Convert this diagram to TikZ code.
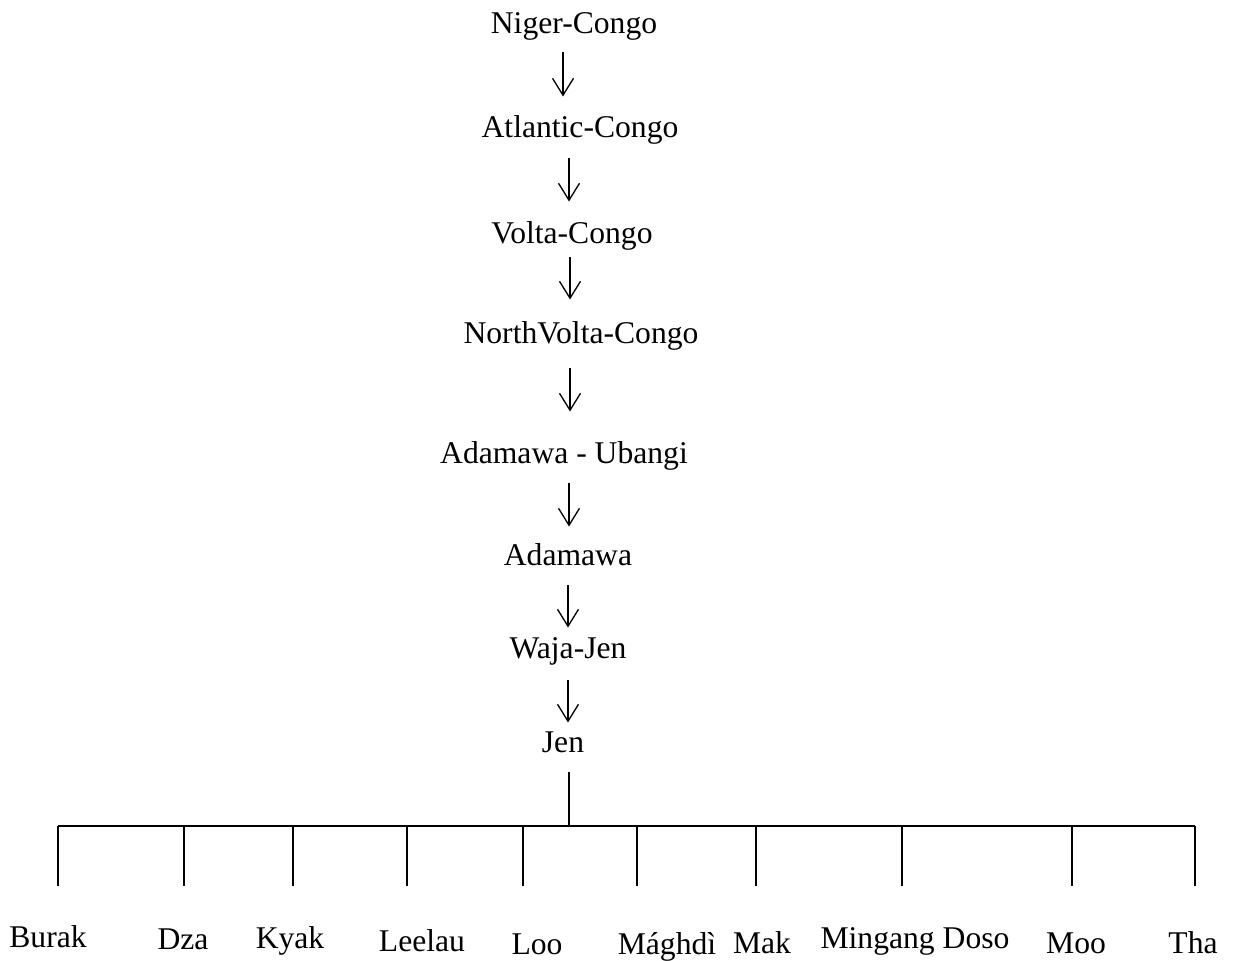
\documentclass[tikz,border=0pt]{standalone}
\usepackage{fontspec}
\setmainfont{Liberation Serif}
\usepackage{tikz}
\usetikzlibrary{arrows.meta,calc}

\tikzset{
  fam/.style={font=\fontsize{18}{22}\selectfont, inner sep=0pt, anchor=base,
    text height=12.6pt, text depth=4.5pt},
  lang/.style={fam},
  link/.style={line width=0.75pt},
  down/.style={link, -{Straight Barb[length=0.34cm,width=0.42cm,line width=0.75pt]}}
}

\begin{document}
\begin{tikzpicture}[x=0.02cm,y=-0.02cm]
        \useasboundingbox (0,0) rectangle (1233,960);
        % the family chain
        \node[fam] (ng)  at (574,33)  {Niger-Congo};
        \node[fam] (ac)  at (580,137) {Atlantic-Congo};
        \node[fam] (vc)  at (572,243) {Volta-Congo};
        \node[fam] (nvc) at (581,343) {NorthVolta-Congo};
        \node[fam] (au)  at (564,463) {Adamawa - Ubangi};
        \node[fam] (ad)  at (568,565) {Adamawa};
        \node[fam] (wj)  at (568,658) {Waja-Jen};
        \node[fam] (jen) at (563,752) {Jen};
        % arrows between them
        \foreach \a/\b/\x/\s/\e in {ng/ac/563/11/18, ac/vc/569/13/19, vc/nvc/570/6/21,
                 nvc/au/570/17/29, au/ad/569/12/16, ad/wj/568/12/8, wj/jen/568/14/7}
          \draw[down, shorten <=\s*0.02cm, shorten >=\e*0.02cm]
            (\a.south -| \x,0) -- (\b.north -| \x,0);
        % the bar
        \coordinate (hub)  at (569,826);
        \coordinate (barL) at (58,826);
        \coordinate (barR) at (1195,826);
        \draw[link, shorten <=12*0.02cm] (jen.south -| hub) -- (hub);
        \draw[link] (barL) -- (barR);
        % the languages
        \foreach \x/\cx/\by/\n/\t in {58/48/947/burak/Burak, 184/183/949/dza/Dza,
                 293/290/948/kyak/Kyak, 407/422/951/leelau/Leelau, 523/537/954/loo/Loo,
                 637/667/954/maghdi/Mághdì, 756/762/953/mak/Mak,
                 902/915/948/mingang/Mingang Doso, 1072/1076/953/moo/Moo, 1195/1193/953/tha/Tha}
        {
          \draw[link] (barL -| \x,0) -- ++(0,60);
          \node[lang] (\n) at (\cx,\by) {\t};
        }
\end{tikzpicture}
\end{document}
